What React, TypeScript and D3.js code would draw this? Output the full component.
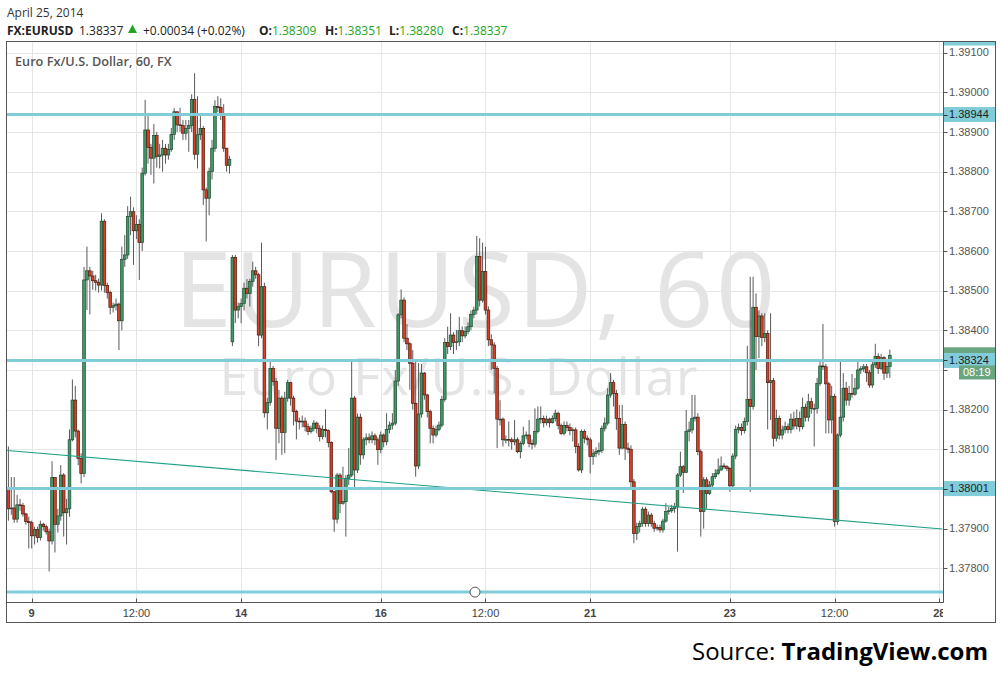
import React from 'react';
import * as d3 from 'd3';

// ---------- DATA (EURUSD, 60 min bars) ----------
const firstOpen = 1.38;
const gapOpens: [number, number][] = [[77, 1.38371]];

const closes = [
  1.37950, 1.37952, 1.37924, 1.37960, 1.37958, 1.37937, 1.37918, 1.37915, 1.37882, 1.37898,
  1.37878, 1.37911, 1.37905, 1.37892, 1.37869, 1.38029, 1.37911, 1.37932, 1.38035, 1.37940,
  1.37950, 1.38124, 1.38224, 1.38146, 1.38077, 1.38039, 1.38527, 1.38550, 1.38537, 1.38525,
  1.38521, 1.38514, 1.38675, 1.38513, 1.38495, 1.38458, 1.38462, 1.38466, 1.38424, 1.38579,
  1.38590, 1.38687, 1.38699, 1.38651, 1.38667, 1.38621, 1.38796, 1.38905, 1.38861, 1.38834,
  1.38891, 1.38838, 1.38842, 1.38859, 1.38842, 1.38856, 1.38894, 1.38951, 1.38918, 1.38916,
  1.38897, 1.38909, 1.38916, 1.38982, 1.38844, 1.38893, 1.38909, 1.38754, 1.38733, 1.38800,
  1.38859, 1.38964, 1.38962, 1.38943, 1.38859, 1.38816, 1.38831, 1.38584, 1.38451, 1.38460,
  1.38468, 1.38506, 1.38493, 1.38523, 1.38550, 1.38540, 1.38388, 1.38510, 1.38192, 1.38218,
  1.38304, 1.38271, 1.38153, 1.38229, 1.38142, 1.38229, 1.38268, 1.38229, 1.38195, 1.38171,
  1.38170, 1.38171, 1.38157, 1.38145, 1.38153, 1.38166, 1.38153, 1.38132, 1.38150, 1.38147,
  1.38117, 1.37993, 1.37924, 1.38035, 1.37964, 1.37968, 1.38027, 1.38035, 1.38229, 1.38048,
  1.38181, 1.38086, 1.38124, 1.38129, 1.38124, 1.38134, 1.38124, 1.38099, 1.38136, 1.38119,
  1.38150, 1.38161, 1.38166, 1.38272, 1.38439, 1.38476, 1.38380, 1.38366, 1.38317, 1.38216,
  1.38058, 1.38189, 1.38292, 1.38237, 1.38195, 1.38153, 1.38136, 1.38150, 1.38161, 1.38226,
  1.38369, 1.38359, 1.38388, 1.38369, 1.38371, 1.38399, 1.38386, 1.38397, 1.38409, 1.38440,
  1.38451, 1.38586, 1.38476, 1.38548, 1.38451, 1.38376, 1.38363, 1.38304, 1.38176, 1.38176,
  1.38124, 1.38125, 1.38124, 1.38119, 1.38124, 1.38094, 1.38115, 1.38134, 1.38136, 1.38115,
  1.38113, 1.38145, 1.38176, 1.38178, 1.38167, 1.38176, 1.38167, 1.38178, 1.38191, 1.38160,
  1.38140, 1.38160, 1.38155, 1.38147, 1.38149, 1.38107, 1.38048, 1.38145, 1.38128, 1.38124,
  1.38082, 1.38090, 1.38094, 1.38097, 1.38153, 1.38166, 1.38237, 1.38268, 1.38241, 1.38178,
  1.38103, 1.38163, 1.38103, 1.38100, 1.38018, 1.37888, 1.37905, 1.37913, 1.37949, 1.37913,
  1.37934, 1.37913, 1.37901, 1.37903, 1.37897, 1.37919, 1.37943, 1.37945, 1.37951, 1.37955,
  1.38035, 1.38056, 1.38042, 1.38145, 1.38149, 1.38178, 1.38181, 1.38094, 1.37943, 1.38023,
  1.37989, 1.38010, 1.38031, 1.38039, 1.38048, 1.38058, 1.38056, 1.38052, 1.38008, 1.38083,
  1.38150, 1.38155, 1.38147, 1.38170, 1.38226, 1.38208, 1.38458, 1.38384, 1.38436, 1.38382,
  1.38392, 1.38268, 1.38273, 1.38128, 1.38178, 1.38136, 1.38149, 1.38157, 1.38150, 1.38176,
  1.38159, 1.38178, 1.38157, 1.38206, 1.38181, 1.38220, 1.38203, 1.38203, 1.38266, 1.38310,
  1.38308, 1.38265, 1.38174, 1.38233, 1.37918, 1.38136, 1.38181, 1.38254, 1.38224, 1.38241,
  1.38239, 1.38254, 1.38300, 1.38303, 1.38308, 1.38293, 1.38262, 1.38313, 1.38334, 1.38304,
  1.38331, 1.38292, 1.38309, 1.38337,
];

const highs = [
  1.38107, 1.38030, 1.38030, 1.37985, 1.37975, 1.37965, 1.37940, 1.37930, 1.37920, 1.37905,
  1.37905, 1.37920, 1.37915, 1.37910, 1.37900, 1.38070, 1.38030, 1.37950, 1.38060, 1.38040,
  1.37975, 1.38150, 1.38276, 1.38260, 1.38150, 1.38090, 1.38560, 1.38611, 1.38560, 1.38550,
  1.38540, 1.38530, 1.38695, 1.38680, 1.38520, 1.38500, 1.38470, 1.38480, 1.38470, 1.38611,
  1.38640, 1.38713, 1.38737, 1.38710, 1.38690, 1.38680, 1.38810, 1.38981, 1.38940, 1.38870,
  1.38920, 1.38900, 1.38870, 1.38880, 1.38870, 1.38870, 1.38910, 1.38960, 1.38950, 1.38961,
  1.38930, 1.38930, 1.38930, 1.38995, 1.39048, 1.38990, 1.38940, 1.38915, 1.38760, 1.38810,
  1.38880, 1.38980, 1.38990, 1.38985, 1.38970, 1.38860, 1.38840, 1.38590, 1.38590, 1.38470,
  1.38480, 1.38520, 1.38529, 1.38530, 1.38573, 1.38560, 1.38545, 1.38621, 1.38520, 1.38230,
  1.38321, 1.38310, 1.38280, 1.38250, 1.38235, 1.38245, 1.38275, 1.38270, 1.38235, 1.38200,
  1.38180, 1.38185, 1.38180, 1.38165, 1.38160, 1.38174, 1.38170, 1.38161, 1.38160, 1.38201,
  1.38150, 1.38120, 1.37995, 1.38040, 1.38040, 1.38056, 1.38035, 1.38103, 1.38325, 1.38235,
  1.38190, 1.38190, 1.38130, 1.38140, 1.38140, 1.38145, 1.38140, 1.38130, 1.38145, 1.38140,
  1.38191, 1.38170, 1.38191, 1.38300, 1.38443, 1.38503, 1.38483, 1.38416, 1.38370, 1.38350,
  1.38321, 1.38317, 1.38315, 1.38295, 1.38240, 1.38200, 1.38160, 1.38160, 1.38170, 1.38235,
  1.38380, 1.38409, 1.38443, 1.38395, 1.38401, 1.38434, 1.38410, 1.38410, 1.38420, 1.38450,
  1.38460, 1.38638, 1.38632, 1.38621, 1.38611, 1.38460, 1.38390, 1.38370, 1.38310, 1.38224,
  1.38180, 1.38135, 1.38170, 1.38130, 1.38174, 1.38130, 1.38120, 1.38157, 1.38145, 1.38174,
  1.38125, 1.38203, 1.38208, 1.38208, 1.38185, 1.38185, 1.38180, 1.38185, 1.38200, 1.38195,
  1.38165, 1.38170, 1.38170, 1.38165, 1.38155, 1.38155, 1.38115, 1.38150, 1.38150, 1.38135,
  1.38130, 1.38100, 1.38105, 1.38117, 1.38160, 1.38180, 1.38254, 1.38292, 1.38275, 1.38250,
  1.38212, 1.38212, 1.38170, 1.38117, 1.38110, 1.38025, 1.37915, 1.37920, 1.37955, 1.37955,
  1.37943, 1.37940, 1.37920, 1.37910, 1.37910, 1.37925, 1.37964, 1.37955, 1.37960, 1.37965,
  1.38040, 1.38094, 1.38060, 1.38199, 1.38170, 1.38237, 1.38237, 1.38191, 1.38100, 1.38030,
  1.38030, 1.38020, 1.38040, 1.38050, 1.38077, 1.38082, 1.38065, 1.38060, 1.38055, 1.38090,
  1.38160, 1.38165, 1.38165, 1.38180, 1.38361, 1.38535, 1.38535, 1.38493, 1.38450, 1.38443,
  1.38443, 1.38400, 1.38443, 1.38280, 1.38200, 1.38185, 1.38160, 1.38170, 1.38165, 1.38190,
  1.38195, 1.38200, 1.38195, 1.38230, 1.38215, 1.38240, 1.38230, 1.38215, 1.38280, 1.38320,
  1.38416, 1.38315, 1.38270, 1.38260, 1.38240, 1.38140, 1.38321, 1.38292, 1.38270, 1.38260,
  1.38290, 1.38280, 1.38321, 1.38310, 1.38315, 1.38315, 1.38300, 1.38320, 1.38366, 1.38342,
  1.38340, 1.38335, 1.38320, 1.38351,
];

const lows = [
  1.37920, 1.37935, 1.37915, 1.37915, 1.37945, 1.37930, 1.37910, 1.37850, 1.37850, 1.37860,
  1.37865, 1.37870, 1.37895, 1.37885, 1.37792, 1.37860, 1.37840, 1.37890, 1.37920, 1.37880,
  1.37860, 1.37930, 1.38120, 1.38130, 1.38060, 1.38014, 1.38030, 1.38451, 1.38440, 1.38502,
  1.38500, 1.38495, 1.38500, 1.38495, 1.38480, 1.38440, 1.38445, 1.38450, 1.38350, 1.38400,
  1.38560, 1.38580, 1.38640, 1.38565, 1.38630, 1.38527, 1.38600, 1.38790, 1.38820, 1.38792,
  1.38770, 1.38810, 1.38808, 1.38800, 1.38820, 1.38830, 1.38850, 1.38880, 1.38900, 1.38900,
  1.38880, 1.38880, 1.38850, 1.38900, 1.38830, 1.38808, 1.38880, 1.38716, 1.38624, 1.38690,
  1.38780, 1.38850, 1.38950, 1.38930, 1.38850, 1.38800, 1.38795, 1.38360, 1.38418, 1.38430,
  1.38418, 1.38450, 1.38480, 1.38460, 1.38510, 1.38530, 1.38360, 1.38380, 1.38180, 1.38150,
  1.38210, 1.38260, 1.38073, 1.38115, 1.38086, 1.38090, 1.38220, 1.38210, 1.38160, 1.38125,
  1.38150, 1.38155, 1.38145, 1.38136, 1.38140, 1.38145, 1.38140, 1.38120, 1.38125, 1.38130,
  1.38105, 1.37989, 1.37892, 1.37913, 1.37939, 1.37960, 1.37880, 1.38010, 1.38030, 1.37997,
  1.38040, 1.38061, 1.38075, 1.38110, 1.38115, 1.38115, 1.38110, 1.38061, 1.38090, 1.38105,
  1.38110, 1.38140, 1.38150, 1.38160, 1.38260, 1.38430, 1.38370, 1.38350, 1.38250, 1.38200,
  1.38031, 1.38050, 1.38180, 1.38225, 1.38180, 1.38115, 1.38115, 1.38130, 1.38145, 1.38155,
  1.38220, 1.38340, 1.38350, 1.38340, 1.38350, 1.38360, 1.38370, 1.38380, 1.38390, 1.38400,
  1.38430, 1.38440, 1.38460, 1.38470, 1.38440, 1.38360, 1.38300, 1.38241, 1.38103, 1.38160,
  1.38107, 1.38115, 1.38107, 1.38099, 1.38110, 1.38090, 1.38077, 1.38110, 1.38125, 1.38105,
  1.38100, 1.38105, 1.38140, 1.38165, 1.38155, 1.38160, 1.38155, 1.38165, 1.38170, 1.38150,
  1.38136, 1.38135, 1.38145, 1.38135, 1.38120, 1.38090, 1.38044, 1.38040, 1.38115, 1.38110,
  1.38039, 1.38061, 1.38080, 1.38085, 1.38090, 1.38145, 1.38160, 1.38230, 1.38208, 1.38149,
  1.38086, 1.38100, 1.38073, 1.38090, 1.38000, 1.37863, 1.37871, 1.37890, 1.37905, 1.37905,
  1.37905, 1.37905, 1.37892, 1.37895, 1.37890, 1.37890, 1.37915, 1.37935, 1.37940, 1.37940,
  1.37842, 1.38030, 1.37990, 1.38040, 1.38120, 1.38140, 1.38170, 1.38085, 1.37880, 1.37900,
  1.37950, 1.37985, 1.38005, 1.38025, 1.38035, 1.38045, 1.38050, 1.38045, 1.37993, 1.38000,
  1.38075, 1.38140, 1.38135, 1.38140, 1.38160, 1.37993, 1.38200, 1.38300, 1.38330, 1.38360,
  1.38370, 1.38150, 1.38174, 1.38107, 1.38120, 1.38125, 1.38125, 1.38140, 1.38140, 1.38140,
  1.38150, 1.38150, 1.38145, 1.38150, 1.38170, 1.38170, 1.38190, 1.38107, 1.38190, 1.38260,
  1.38300, 1.38140, 1.38140, 1.38140, 1.37905, 1.37910, 1.38130, 1.38170, 1.38210, 1.38210,
  1.38230, 1.38235, 1.38250, 1.38290, 1.38295, 1.38270, 1.38255, 1.38255, 1.38305, 1.38290,
  1.38300, 1.38275, 1.38280, 1.38280,
];

const xTickIndex = [8, 44, 80, 128, 164, 200, 248, 284, 320];
const xTickLabels = ['9', '12:00', '14', '16', '12:00', '21', '23', '12:00', '28'];
const yTickValues = [1.378, 1.379, 1.38, 1.381, 1.382, 1.383, 1.384, 1.385, 1.386, 1.387, 1.388, 1.389, 1.39, 1.391];
const levelPrices = [1.38944, 1.38324, 1.38001, 1.3774];
const levelLabeled = [true, true, true, false];
const trendIdx = [-0.4, 321];
const trendPrice = [1.38097, 1.37899];
const headerDate = 'April 25, 2014';
const headerSymbol = 'FX:EURUSD';
const headerChange = '+0.00034 (+0.02%)';
const countdown = '08:19';
const watermarkMain = 'EURUSD, 60';
const watermarkSub = 'Euro Fx/U.S. Dollar';
const subtitle = 'Euro Fx/U.S. Dollar, 60, FX';

const FONT_UI = "'Open Sans', 'Noto Sans', sans-serif";
const FONT_AX = "'Liberation Sans', Arial, sans-serif";

const PL = 6.5, PR = 943.5, PT = 41.5, PB = 602.5, FR = 995.5, FB = 622.5;

const UP_FILL = '#3f9766';
const UP_STROKE = '#1f4a32';
const DN_FILL = '#d53f27';
const DN_STROKE = '#4c1a10';
const CYAN = '#80ccd8';
const HGREEN = '#22a522';
const LAST_GREEN = '#6aa680';

export default function App() {
  const x = d3.scaleLinear().domain([0, 320]).range([8.4, 939.3]);
  const y = d3.scaleLinear().domain([1.378, 1.39]).range([568.3, 92.3]);
  const fmt = d3.format('.5f');

  const candles = closes.map((c, i) => {
    const g = gapOpens.find((d) => d[0] === i);
    const o = i === 0 ? firstOpen : g ? g[1] : closes[i - 1];
    const h = Math.max(highs[i], o, c);
    const l = Math.min(lows[i], o, c);
    return { i, o, c, h, l };
  });
  const last = candles[candles.length - 1];

  const trendLine = d3.line<number>()
    .x((_, k) => x(trendIdx[k]))
    .y((p) => y(p));

  // y positions covered by the right-hand label boxes (labels hidden under them)
  const boxCenters = [
    ...levelPrices.filter((_, k) => levelLabeled[k]).map((p) => y(p)),
    y(levelPrices[1]) + 12,
  ];
  const tickVisible = (v: number) => boxCenters.every((c) => Math.abs(y(v) - c) > 9);

  return (
    <svg width={1002} height={680} style={{ position: 'absolute', left: 0, top: 0, background: '#fff' }}>
      <defs>
        <clipPath id="plotClip">
          <rect x={PL + 0.5} y={PT + 0.5} width={PR - PL - 1} height={PB - PT - 1} />
        </clipPath>
        <clipPath id="xAxisClip">
          <rect x={PL + 0.5} y={PB} width={PR - PL - 1} height={FB - PB} />
        </clipPath>
      </defs>

      {/* header */}
      <text x={7} y={16.5} fontFamily={FONT_UI} fontSize={12} fill="#333">{headerDate}</text>
      <text x={7} y={34.5} fontFamily={FONT_UI} fontSize={12} fill="#222">
        <tspan fontWeight="bold">{headerSymbol}</tspan>
        <tspan x={79}>{fmt(last.c)}</tspan>
      </text>
      <path d="M128,33 L137,33 L132.5,24.5 Z" fill={HGREEN} />
      <text x={143} y={34.5} fontFamily={FONT_UI} fontSize={12} fill="#222">{headerChange}</text>
      {[
        ['O:', last.o, 259],
        ['H:', last.h, 325],
        ['L:', last.l, 389],
        ['C:', last.c, 452],
      ].map(([lab, v, px]) => (
        <text key={lab as string} x={px as number} y={34.5} fontFamily={FONT_UI} fontSize={12}>
          <tspan fontWeight="bold" fill="#222">{lab as string}</tspan>
          <tspan fill={HGREEN}>{fmt(v as number)}</tspan>
        </text>
      ))}

      {/* grid */}
      <g clipPath="url(#plotClip)">
        {yTickValues.map((v) => (
          <line key={'hg' + v} x1={PL} x2={PR} y1={Math.round(y(v)) + 0.5} y2={Math.round(y(v)) + 0.5} stroke="#e6e6e6" />
        ))}
        {xTickIndex.map((t) => (
          <line key={'vg' + t} x1={Math.round(x(t)) + 0.5} x2={Math.round(x(t)) + 0.5} y1={PT} y2={PB} stroke="#e6e6e6" />
        ))}

        {/* watermark (one text block, two lines) */}
        <text textAnchor="middle" fontFamily={FONT_UI} fill="#e4e4e4">
          <tspan x={476} y={327} fontSize={104} letterSpacing={2.5}>{watermarkMain}</tspan>
          <tspan x={459} y={395} fontSize={52} letterSpacing={1.4}>{watermarkSub}</tspan>
        </text>

        {/* candles */}
        {candles.map((d) => {
          const cx = x(d.i);
          const up = d.c >= d.o;
          const top = y(Math.max(d.o, d.c));
          const bot = y(Math.min(d.o, d.c));
          return (
            <g key={d.i}>
              <line x1={cx} x2={cx} y1={y(d.h)} y2={y(d.l)} stroke="#5a5a5a" strokeWidth={1} />
              <rect x={cx - 1.35} width={2.7} y={top} height={Math.max(bot - top, 0.8)}
                fill={up ? UP_FILL : DN_FILL} stroke={up ? UP_STROKE : DN_STROKE} strokeWidth={0.7} />
            </g>
          );
        })}

        {/* trend line */}
        <path d={trendLine(trendPrice) || ''} stroke="#1f9f86" strokeWidth={1.1} fill="none" />

        {/* horizontal levels */}
        {levelPrices.map((p) => (
          <line key={'lv' + p} x1={PL} x2={PR} y1={y(p)} y2={y(p)} stroke={CYAN} strokeWidth={3} />
        ))}
        <circle cx={475} cy={y(levelPrices[3])} r={5} fill="#fff" stroke="#555" strokeWidth={1} />
      </g>

      <text x={15} y={65.5} fontFamily={FONT_UI} fontSize={12.7} fontWeight={600} fill="#555">{subtitle}</text>

      {/* y axis */}
      {yTickValues.map((v) => (
        <g key={'yt' + v}>
          <line x1={PR} x2={PR + 4} y1={Math.round(y(v)) + 0.5} y2={Math.round(y(v)) + 0.5} stroke="#555" />
          {tickVisible(v) ? (
            <text x={949} y={y(v)} dy="0.35em" fontFamily={FONT_AX} fontSize={11} fill="#555">{fmt(v)}</text>
          ) : null}
        </g>
      ))}
      <rect x={PR} y={PT} width={FR - PR} height={4} fill={CYAN} />

      {/* last price box (mostly covered by the level label) */}
      <rect x={PR} y={y(last.c) - 8} width={FR - PR} height={14} fill={LAST_GREEN} />

      {/* level labels */}
      {levelPrices.map((p, k) =>
        levelLabeled[k] ? (
          <g key={'ll' + p}>
            <rect x={PR} y={y(p) - 7.5} width={FR - PR} height={15} fill={CYAN} />
            <line x1={PR} x2={PR + 4} y1={Math.round(y(p)) + 0.5} y2={Math.round(y(p)) + 0.5} stroke="#333" />
            <text x={949} y={y(p)} dy="0.35em" fontFamily={FONT_AX} fontSize={11} fill="#222">{fmt(p)}</text>
          </g>
        ) : null
      )}
      <rect x={959} y={y(levelPrices[1]) + 5} width={FR - 959} height={14} fill={LAST_GREEN} />
      <text x={963} y={y(levelPrices[1]) + 12} dy="0.35em" fontFamily={FONT_AX} fontSize={11} fill="#fff">{countdown}</text>

      {/* x axis */}
      <g clipPath="url(#xAxisClip)">
        {xTickIndex.map((t, k) => (
          <text key={'xl' + t} x={x(t)} y={617} textAnchor="middle" fontFamily={FONT_AX} fontSize={11}
            fontWeight={xTickLabels[k].includes(':') ? 'normal' : 'bold'} fill="#444">{xTickLabels[k]}</text>
        ))}
      </g>
      {xTickIndex.map((t) => (
        <line key={'xt' + t} x1={Math.round(x(t)) + 0.5} x2={Math.round(x(t)) + 0.5} y1={PB - 4} y2={PB} stroke="#555" />
      ))}

      {/* frame */}
      <rect x={PL} y={PT} width={FR - PL} height={FB - PT} fill="none" stroke="#555" />
      <line x1={PR} x2={PR} y1={PT} y2={PB} stroke="#555" />
      <line x1={PL} x2={PR} y1={PB} y2={PB} stroke="#555" />

      {/* source */}
      <text x={988} y={660} textAnchor="end" fontFamily={FONT_UI} fontSize={24} fill="#000">
        <tspan>Source: </tspan>
        <tspan fontWeight="bold">TradingView.com</tspan>
      </text>
    </svg>
  );
}
